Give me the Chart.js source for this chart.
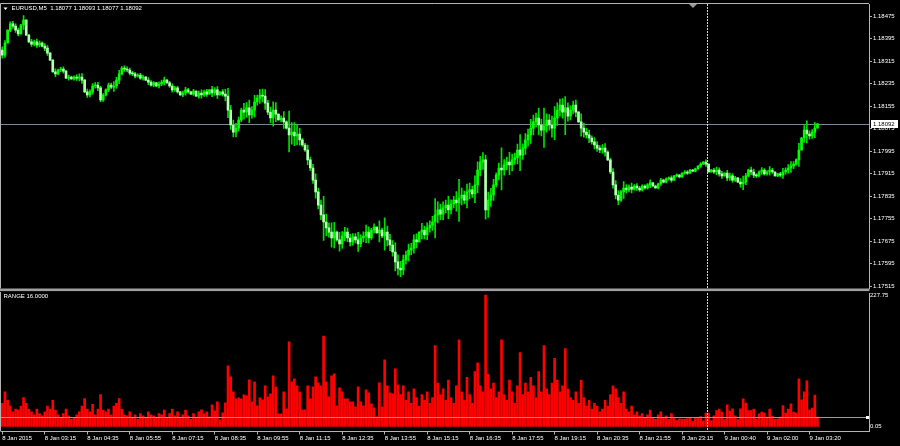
<!DOCTYPE html>
<html>
<head>
<meta charset="utf-8">
<title>EURUSD,M5</title>
<script src="https://cdn.jsdelivr.net/npm/chart.js@4.4.1/dist/chart.umd.min.js"></script>
<style>
    html, body { margin: 0; padding: 0; background: #000; }
    #wrap { position: relative; width: 900px; height: 446px; background: #000; overflow: hidden; }
    #priceChart { position: absolute; left: 0; top: 0; }
    #rangeChart { position: absolute; left: 0; top: 292px; }
</style>
</head>
<body>
<div id="wrap">
    <canvas id="priceChart" width="900" height="292"></canvas>
    <canvas id="rangeChart" width="900" height="154"></canvas>
</div>
<script>
// time axis labels, one every 16 bars
const tickLabels = ['8 Jan 2015', '8 Jan 03:15', '8 Jan 04:35', '8 Jan 05:55', '8 Jan 07:15', '8 Jan 08:35',
    '8 Jan 09:55', '8 Jan 11:15', '8 Jan 12:35', '8 Jan 13:55', '8 Jan 15:15', '8 Jan 16:35', '8 Jan 17:55',
    '8 Jan 19:15', '8 Jan 20:35', '8 Jan 21:55', '8 Jan 23:15', '9 Jan 00:40', '9 Jan 02:00', '9 Jan 03:20'];
const labelEvery = 16;

const priceTicks = [1.18475, 1.18395, 1.18315, 1.18235, 1.18155, 1.18075, 1.17995,
    1.17915, 1.17835, 1.17755, 1.17675, 1.17595, 1.17515];
const rangeTicks = [227.75, 0.05];

const symbolText = 'EURUSD,M5  1.18077 1.18093 1.18077 1.18092';
const rangeText = 'RANGE 16.0000';
const lastPrice = 1.18092;
const rangeLevel = 16;

// M5 candles
const opens = [
    1.18355,1.18337,1.18380,1.18426,1.18448,1.18440,1.18426,1.18412,1.18444,1.18462,1.18408,1.18384,1.18376,1.18384,1.18373,1.18380,
    1.18369,1.18362,1.18344,1.18319,1.18277,1.18270,1.18284,1.18287,1.18280,1.18255,1.18259,1.18252,1.18259,1.18255,1.18259,1.18248,
    1.18206,1.18195,1.18206,1.18227,1.18230,1.18220,1.18177,1.18195,1.18213,1.18230,1.18223,1.18227,1.18248,1.18270,1.18291,1.18287,
    1.18284,1.18273,1.18270,1.18262,1.18266,1.18255,1.18259,1.18248,1.18241,1.18230,1.18238,1.18227,1.18234,1.18241,1.18248,1.18238,
    1.18227,1.18213,1.18220,1.18206,1.18195,1.18202,1.18213,1.18206,1.18198,1.18209,1.18191,1.18202,1.18195,1.18206,1.18198,1.18213,
    1.18202,1.18213,1.18195,1.18206,1.18198,1.18191,1.18141,1.18088,1.18063,1.18077,1.18106,1.18141,1.18134,1.18149,1.18124,1.18141,
    1.18170,1.18184,1.18195,1.18191,1.18166,1.18134,1.18113,1.18141,1.18127,1.18106,1.18113,1.18099,1.18077,1.18053,1.18063,1.18049,
    1.18056,1.18035,1.18017,1.17999,1.17964,1.17935,1.17892,1.17850,1.17803,1.17768,1.17743,1.17722,1.17707,1.17686,1.17707,1.17679,
    1.17665,1.17693,1.17707,1.17686,1.17672,1.17690,1.17679,1.17665,1.17686,1.17693,1.17707,1.17686,1.17714,1.17725,1.17704,1.17714,
    1.17693,1.17707,1.17679,1.17661,1.17636,1.17601,1.17579,1.17572,1.17608,1.17625,1.17643,1.17650,1.17679,1.17672,1.17707,1.17714,
    1.17697,1.17722,1.17732,1.17743,1.17768,1.17786,1.17771,1.17793,1.17803,1.17786,1.17807,1.17821,1.17811,1.17828,1.17839,1.17821,
    1.17850,1.17857,1.17843,1.17875,1.17928,1.17956,1.17964,1.17786,1.17821,1.17839,1.17875,1.17910,1.17935,1.17928,1.17946,1.17956,
    1.17946,1.17964,1.17971,1.17999,1.17981,1.18006,1.18035,1.18053,1.18077,1.18099,1.18113,1.18088,1.18070,1.18085,1.18106,1.18088,
    1.18077,1.18113,1.18141,1.18159,1.18134,1.18149,1.18120,1.18141,1.18159,1.18134,1.18099,1.18077,1.18063,1.18053,1.18042,1.18028,
    1.18017,1.18006,1.17999,1.18006,1.17992,1.17964,1.17921,1.17875,1.17839,1.17821,1.17850,1.17864,1.17857,1.17867,1.17860,1.17871,
    1.17864,1.17857,1.17871,1.17864,1.17875,1.17882,1.17871,1.17864,1.17878,1.17892,1.17885,1.17896,1.17900,1.17892,1.17907,1.17910,
    1.17903,1.17917,1.17921,1.17917,1.17928,1.17924,1.17932,1.17942,1.17949,1.17956,1.17949,1.17921,1.17928,1.17921,1.17928,1.17914,
    1.17907,1.17917,1.17900,1.17907,1.17892,1.17900,1.17885,1.17878,1.17885,1.17907,1.17928,1.17921,1.17910,1.17907,1.17921,1.17928,
    1.17914,1.17921,1.17928,1.17921,1.17907,1.17914,1.17910,1.17921,1.17928,1.17935,1.17942,1.17949,1.17964,1.17999,1.18042,1.18070,
    1.18056,1.18049,1.18063,1.18077
];
const highs = [
    1.18366,1.18389,1.18427,1.18455,1.18457,1.18448,1.18433,1.18446,1.18478,1.18463,1.18411,1.18393,1.18390,1.18394,1.18388,1.18384,
    1.18378,1.18371,1.18347,1.18321,1.18288,1.18287,1.18293,1.18295,1.18283,1.18266,1.18262,1.18263,1.18267,1.18270,1.18271,1.18251,
    1.18216,1.18213,1.18236,1.18239,1.18240,1.18226,1.18200,1.18217,1.18237,1.18237,1.18243,1.18258,1.18283,1.18296,1.18299,1.18295,
    1.18291,1.18279,1.18276,1.18270,1.18272,1.18266,1.18261,1.18257,1.18246,1.18243,1.18240,1.18242,1.18248,1.18259,1.18251,1.18244,
    1.18235,1.18226,1.18226,1.18208,1.18209,1.18222,1.18219,1.18208,1.18215,1.18210,1.18209,1.18213,1.18212,1.18215,1.18214,1.18226,
    1.18221,1.18225,1.18207,1.18214,1.18215,1.18219,1.18158,1.18106,1.18094,1.18116,1.18148,1.18165,1.18168,1.18177,1.18154,1.18194,
    1.18195,1.18214,1.18216,1.18214,1.18176,1.18152,1.18171,1.18168,1.18128,1.18121,1.18136,1.18103,1.18138,1.18097,1.18097,1.18088,
    1.18076,1.18041,1.18023,1.18017,1.17974,1.17948,1.17914,1.17864,1.17821,1.17834,1.17771,1.17740,1.17740,1.17742,1.17711,1.17706,
    1.17709,1.17724,1.17721,1.17700,1.17702,1.17702,1.17706,1.17697,1.17708,1.17732,1.17726,1.17720,1.17736,1.17726,1.17747,1.17721,
    1.17758,1.17728,1.17699,1.17677,1.17669,1.17626,1.17603,1.17625,1.17639,1.17664,1.17667,1.17697,1.17701,1.17708,1.17738,1.17728,
    1.17740,1.17747,1.17763,1.17826,1.17815,1.17806,1.17815,1.17821,1.17835,1.17822,1.17834,1.17851,1.17895,1.17864,1.17853,1.17878,
    1.17881,1.17870,1.17907,1.17957,1.17977,1.17990,1.17981,1.17849,1.17863,1.17895,1.17918,1.17953,1.18007,1.17965,1.17974,1.17991,
    1.17985,1.17988,1.18020,1.18054,1.18021,1.18058,1.18074,1.18108,1.18123,1.18131,1.18148,1.18109,1.18148,1.18128,1.18125,1.18120,
    1.18154,1.18167,1.18180,1.18182,1.18189,1.18167,1.18156,1.18173,1.18177,1.18137,1.18128,1.18095,1.18076,1.18070,1.18050,1.18043,
    1.18029,1.18015,1.18018,1.18022,1.17996,1.17970,1.17933,1.17890,1.17855,1.17856,1.17887,1.17876,1.17875,1.17881,1.17876,1.17880,
    1.17870,1.17875,1.17875,1.17880,1.17893,1.17884,1.17874,1.17881,1.17898,1.17896,1.17900,1.17904,1.17907,1.17908,1.17914,1.17913,
    1.17918,1.17926,1.17926,1.17930,1.17930,1.17935,1.17944,1.17954,1.17958,1.17964,1.17950,1.17930,1.17934,1.17938,1.17936,1.17923,
    1.17918,1.17927,1.17917,1.17915,1.17905,1.17901,1.17897,1.17906,1.17916,1.17931,1.17938,1.17931,1.17915,1.17925,1.17937,1.17933,
    1.17926,1.17940,1.17934,1.17922,1.17917,1.17920,1.17934,1.17936,1.17947,1.17958,1.17958,1.17968,1.18023,1.18044,1.18086,1.18103,
    1.18067,1.18072,1.18097,1.18093
];
const lows = [
    1.18326,1.18329,1.18379,1.18420,1.18432,1.18418,1.18405,1.18411,1.18428,1.18407,1.18381,1.18368,1.18370,1.18364,1.18366,1.18366,
    1.18353,1.18336,1.18317,1.18276,1.18260,1.18267,1.18278,1.18273,1.18253,1.18248,1.18250,1.18248,1.18247,1.18245,1.18236,1.18203,
    1.18186,1.18188,1.18198,1.18219,1.18210,1.18171,1.18172,1.18192,1.18207,1.18217,1.18208,1.18218,1.18235,1.18266,1.18279,1.18277,
    1.18266,1.18264,1.18256,1.18258,1.18250,1.18248,1.18246,1.18232,1.18226,1.18225,1.18225,1.18220,1.18228,1.18231,1.18236,1.18222,
    1.18205,1.18208,1.18201,1.18193,1.18189,1.18194,1.18201,1.18196,1.18193,1.18190,1.18184,1.18184,1.18190,1.18190,1.18197,1.18189,
    1.18194,1.18183,1.18194,1.18191,1.18174,1.18114,1.18072,1.18046,1.18046,1.18067,1.18100,1.18110,1.18115,1.18096,1.18112,1.18117,
    1.18159,1.18165,1.18170,1.18144,1.18125,1.18096,1.18084,1.18100,1.18105,1.18099,1.18076,1.18073,1.17992,1.18020,1.18015,1.18018,
    1.18016,1.18012,1.17994,1.17947,1.17926,1.17880,1.17828,1.17789,1.17751,1.17677,1.17694,1.17689,1.17653,1.17651,1.17675,1.17639,
    1.17649,1.17676,1.17673,1.17658,1.17660,1.17668,1.17638,1.17655,1.17672,1.17669,1.17668,1.17681,1.17704,1.17703,1.17672,1.17687,
    1.17643,1.17658,1.17641,1.17621,1.17569,1.17554,1.17548,1.17555,1.17594,1.17604,1.17627,1.17632,1.17651,1.17671,1.17683,1.17683,
    1.17680,1.17707,1.17713,1.17686,1.17740,1.17751,1.17750,1.17776,1.17755,1.17772,1.17794,1.17781,1.17745,1.17804,1.17808,1.17793,
    1.17826,1.17830,1.17812,1.17847,1.17907,1.17930,1.17753,1.17759,1.17798,1.17820,1.17868,1.17893,1.17857,1.17910,1.17929,1.17911,
    1.17925,1.17948,1.17950,1.17926,1.17966,1.17983,1.18014,1.18023,1.18053,1.18081,1.18053,1.18049,1.18008,1.18063,1.18070,1.18045,
    1.18036,1.18087,1.18120,1.18112,1.18054,1.18102,1.18106,1.18128,1.18117,1.18097,1.18048,1.18045,1.18041,1.18025,1.18020,1.18003,
    1.17994,1.17990,1.17988,1.17977,1.17961,1.17915,1.17863,1.17825,1.17805,1.17816,1.17827,1.17846,1.17850,1.17846,1.17856,1.17855,
    1.17852,1.17853,1.17860,1.17860,1.17865,1.17869,1.17862,1.17861,1.17873,1.17882,1.17882,1.17892,1.17885,1.17891,1.17904,1.17900,
    1.17902,1.17913,1.17912,1.17916,1.17922,1.17921,1.17930,1.17937,1.17948,1.17941,1.17920,1.17920,1.17916,1.17911,1.17906,1.17898,
    1.17906,1.17890,1.17891,1.17885,1.17887,1.17884,1.17867,1.17858,1.17876,1.17904,1.17911,1.17901,1.17902,1.17903,1.17912,1.17910,
    1.17910,1.17910,1.17916,1.17906,1.17904,1.17904,1.17898,1.17913,1.17917,1.17919,1.17933,1.17945,1.17941,1.17998,1.18026,1.18024,
    1.18038,1.18040,1.18043,1.18077
];
const closes = [
    1.18337,1.18380,1.18426,1.18448,1.18440,1.18426,1.18412,1.18444,1.18462,1.18408,1.18384,1.18376,1.18384,1.18373,1.18380,1.18369,
    1.18362,1.18344,1.18319,1.18277,1.18270,1.18284,1.18287,1.18280,1.18255,1.18259,1.18252,1.18259,1.18255,1.18259,1.18248,1.18206,
    1.18195,1.18206,1.18227,1.18230,1.18220,1.18177,1.18195,1.18213,1.18230,1.18223,1.18227,1.18248,1.18270,1.18291,1.18287,1.18284,
    1.18273,1.18270,1.18262,1.18266,1.18255,1.18259,1.18248,1.18241,1.18230,1.18238,1.18227,1.18234,1.18241,1.18248,1.18238,1.18227,
    1.18213,1.18220,1.18206,1.18195,1.18202,1.18213,1.18206,1.18198,1.18209,1.18191,1.18202,1.18195,1.18206,1.18198,1.18213,1.18202,
    1.18213,1.18195,1.18206,1.18198,1.18191,1.18141,1.18088,1.18063,1.18077,1.18106,1.18141,1.18134,1.18149,1.18124,1.18141,1.18170,
    1.18184,1.18195,1.18191,1.18166,1.18134,1.18113,1.18141,1.18127,1.18106,1.18113,1.18099,1.18077,1.18053,1.18063,1.18049,1.18056,
    1.18035,1.18017,1.17999,1.17964,1.17935,1.17892,1.17850,1.17803,1.17768,1.17743,1.17722,1.17707,1.17686,1.17707,1.17679,1.17665,
    1.17693,1.17707,1.17686,1.17672,1.17690,1.17679,1.17665,1.17686,1.17693,1.17707,1.17686,1.17714,1.17725,1.17704,1.17714,1.17693,
    1.17707,1.17679,1.17661,1.17636,1.17601,1.17579,1.17572,1.17608,1.17625,1.17643,1.17650,1.17679,1.17672,1.17707,1.17714,1.17697,
    1.17722,1.17732,1.17743,1.17768,1.17786,1.17771,1.17793,1.17803,1.17786,1.17807,1.17821,1.17811,1.17828,1.17839,1.17821,1.17850,
    1.17857,1.17843,1.17875,1.17928,1.17956,1.17964,1.17786,1.17821,1.17839,1.17875,1.17910,1.17935,1.17928,1.17946,1.17956,1.17946,
    1.17964,1.17971,1.17999,1.17981,1.18006,1.18035,1.18053,1.18077,1.18099,1.18113,1.18088,1.18070,1.18085,1.18106,1.18088,1.18077,
    1.18113,1.18141,1.18159,1.18134,1.18149,1.18120,1.18141,1.18159,1.18134,1.18099,1.18077,1.18063,1.18053,1.18042,1.18028,1.18017,
    1.18006,1.17999,1.18006,1.17992,1.17964,1.17921,1.17875,1.17839,1.17821,1.17850,1.17864,1.17857,1.17867,1.17860,1.17871,1.17864,
    1.17857,1.17871,1.17864,1.17875,1.17882,1.17871,1.17864,1.17878,1.17892,1.17885,1.17896,1.17900,1.17892,1.17907,1.17910,1.17903,
    1.17917,1.17921,1.17917,1.17928,1.17924,1.17932,1.17942,1.17949,1.17956,1.17949,1.17921,1.17928,1.17921,1.17928,1.17914,1.17907,
    1.17917,1.17900,1.17907,1.17892,1.17900,1.17885,1.17878,1.17885,1.17907,1.17928,1.17921,1.17910,1.17907,1.17921,1.17928,1.17914,
    1.17921,1.17928,1.17921,1.17907,1.17914,1.17910,1.17921,1.17928,1.17935,1.17942,1.17949,1.17964,1.17999,1.18042,1.18070,1.18056,
    1.18049,1.18063,1.18077,1.18092
];

// RANGE indicator (points)
const ranges = [
    40,60,45,35,25,30,28,35,50,40,30,25,20,30,22,18,
    25,35,30,45,28,20,15,22,30,18,12,15,20,25,35,48,
    30,25,38,20,30,55,28,25,30,20,35,40,48,30,20,18,
    25,15,20,12,22,18,15,25,20,18,15,22,20,28,15,22,
    30,18,25,15,20,28,18,12,22,15,25,28.6,21.6,25.1,16.5,37.2,
    26.8,42.4,11.3,23.4,40.7,104.8,85.7,59.7,47.6,49.4,47.6,54.5,52.8,80.5,42.4,77.1,
    35.5,49.4,45.9,70.1,51.1,56.3,87.4,68.4,21.6,21.6,59.7,30.3,146.3,77.1,82.3,70.1,
    59.7,28.6,28.6,70.1,47.6,68.4,85.7,75.3,70.1,156.7,77.1,51.1,87.4,90.9,35.5,66.7,
    59.7,47.6,47.6,42.4,42.4,33.8,68.4,42.4,35.5,63.2,58.0,39.0,32.0,16.5,75.3,33.8,
    115.2,70.1,58.0,56.3,99.6,71.9,55,70,45,60,40,65,50,35,55,45,
    60,40,50,140,75,55,65,45,80,50,40,70,150,60,45,85,
    55,40,95,110,70,60,227.75,90,65,75,50,60,150,55,45,80,
    60,40,70,128,55,75,60,85,70,50,95,60,140,65,55,75,
    118,80,60,70,135,65,50,45,60,40,80,50,35,45,30,40,
    35,25,30,45,35,55,70,65,50,40,60,30,25,35,20,25,
    18,22,15,20,28,15,12,20,25,14,18,12,22,15,10,13,
    12.5,12.5,13.5,14.2,8.3,14.2,14.2,17,9.5,23,22.9,10,18.2,27.4,29.8,24.6,
    11.8,37.2,26.3,30.3,18.2,11.8,30.3,47.6,40.2,27.4,27.4,29.8,12.5,21.6,24.6,22.9,
    15.9,29.8,17.7,12.5,13,15.9,36,22.9,29.8,39,24.6,22.9,82.3,45.9,59.7,78.8,
    28.6,31.5,54,16
];

// look
const FONT = '"Liberation Sans", Arial, sans-serif';
const TEXT = '#ffffff';
const FRAME = '#b4b4b4';
const BULL = '#00ff00';
const BEAR = '#b4ffb4';
const WICK = '#00e000';
const X_MIN = -0.5;
const X_MAX = 326.4;   // empty space right of the last bar
const crossBar = 265.5;

function textAt(ctx, str, x, y, color) {
    ctx.save();
    ctx.font = '6px ' + FONT;
    ctx.fillStyle = color;
    ctx.textBaseline = 'middle';
    ctx.textAlign = 'left';
    ctx.fillText(str, x, y);
    ctx.restore();
}

function drawCross(chart) {
    const { ctx, chartArea: a, scales } = chart;
    const x = Math.round(scales.x.getPixelForValue(crossBar)) + 0.5;
    ctx.save();
    ctx.strokeStyle = '#d8d8d8';
    ctx.setLineDash([2, 1]);
    ctx.beginPath();
    ctx.moveTo(x, a.top);
    ctx.lineTo(x, a.bottom);
    ctx.stroke();
    ctx.restore();
}

const pricePlugin = {
    id: 'pricePanel',
    beforeDatasetsDraw(chart) {
        const { ctx, chartArea: a, scales } = chart;
        const y = Math.round(scales.y.getPixelForValue(lastPrice)) + 0.5;
        ctx.save();
        ctx.strokeStyle = '#778899';
        ctx.beginPath();
        ctx.moveTo(a.left, y);
        ctx.lineTo(a.right, y);
        ctx.stroke();
        ctx.restore();
    },
    afterDatasetsDraw(chart) {
        drawCross(chart);
    },
    afterDraw(chart) {
        const { ctx, chartArea: a, scales } = chart;
        ctx.save();
        // frame
        ctx.strokeStyle = FRAME;
        ctx.beginPath();
        ctx.moveTo(a.left - 0.5, a.bottom);
        ctx.lineTo(a.left - 0.5, a.top - 0.5);
        ctx.lineTo(a.right, a.top - 0.5);
        ctx.stroke();
        // splitter between the two windows
        ctx.fillStyle = '#a0a0a0';
        ctx.fillRect(0, a.bottom, a.right + 0.5, 2.6);
        // chart shift marker
        ctx.fillStyle = '#9a9a9a';
        ctx.beginPath();
        ctx.moveTo(689, a.top);
        ctx.lineTo(697, a.top);
        ctx.lineTo(693, a.top + 4);
        ctx.closePath();
        ctx.fill();
        // header
        ctx.fillStyle = TEXT;
        ctx.beginPath();
        ctx.moveTo(3.5, 7.5);
        ctx.lineTo(7.5, 7.5);
        ctx.lineTo(5.5, 10);
        ctx.closePath();
        ctx.fill();
        textAt(ctx, symbolText, 11.5, 8.5, TEXT);
        // last price label
        const y = Math.round(scales.y.getPixelForValue(lastPrice));
        ctx.fillStyle = '#ffffff';
        ctx.fillRect(871, y - 4, 27, 8);
        textAt(ctx, lastPrice.toFixed(5), 873, y + 0.5, '#000000');
        ctx.restore();
    }
};

const rangePlugin = {
    id: 'rangePanel',
    afterDatasetsDraw(chart) {
        const { ctx, chartArea: a, scales } = chart;
        const y = Math.round(scales.y.getPixelForValue(rangeLevel)) + 0.5;
        ctx.save();
        ctx.strokeStyle = '#9a9a9a';
        ctx.beginPath();
        ctx.moveTo(a.left, y);
        ctx.lineTo(a.right, y);
        ctx.stroke();
        ctx.fillStyle = '#ffffff';
        ctx.fillRect(a.right - 3, y - 1.5, 3, 3);
        ctx.restore();
        drawCross(chart);
    },
    afterDraw(chart) {
        const { ctx, chartArea: a } = chart;
        ctx.save();
        ctx.strokeStyle = FRAME;
        ctx.beginPath();
        ctx.moveTo(a.left - 0.5, a.bottom);
        ctx.lineTo(a.left - 0.5, 0);
        ctx.stroke();
        ctx.restore();
        textAt(chart.ctx, rangeText, 3.5, 4, TEXT);
    }
};

const axisFont = { family: FONT, size: 6 };

// candles: wicks as thin floating bars, bodies as wider floating bars
new Chart(document.getElementById('priceChart'), {
    type: 'bar',
    data: {
        datasets: [{
            data: highs.map((h, i) => ({ x: i, y: [lows[i], h] })),
            backgroundColor: WICK,
            barThickness: 1,
            grouped: false,
            order: 2
        }, {
            data: opens.map((o, i) => ({ x: i, y: [o, closes[i]] })),
            backgroundColor: opens.map((o, i) => closes[i] >= o ? BULL : BEAR),
            barThickness: 2,
            minBarLength: 1,
            grouped: false,
            order: 1
        }]
    },
    options: {
        responsive: false,
        animation: false,
        layout: { padding: { left: 1, top: 4, right: 0, bottom: 3.5 } },
        plugins: { legend: { display: false }, tooltip: { enabled: false } },
        scales: {
            x: { type: 'linear', min: X_MIN, max: X_MAX, offset: false, display: false },
            y: {
                position: 'right',
                min: 1.175062,
                max: 1.185188,
                afterBuildTicks: scale => { scale.ticks = priceTicks.map(v => ({ value: v })); },
                afterFit: scale => { scale.width = 31; scale.paddingTop = 0; scale.paddingBottom = 0; },
                ticks: { color: TEXT, font: axisFont, padding: 1, autoSkip: false, callback: v => v.toFixed(5) },
                grid: { drawOnChartArea: false, tickLength: 3, color: FRAME },
                border: { color: FRAME }
            }
        }
    },
    plugins: [pricePlugin]
});

new Chart(document.getElementById('rangeChart'), {
    type: 'bar',
    data: {
        datasets: [{
            data: ranges.map((v, i) => ({ x: i, y: v })),
            backgroundColor: '#ff0000',
            barThickness: 2
        }]
    },
    options: {
        responsive: false,
        animation: false,
        layout: { padding: { left: 1, top: 1, right: 0, bottom: 0 } },
        plugins: { legend: { display: false }, tooltip: { enabled: false } },
        scales: {
            x: {
                type: 'linear', min: X_MIN, max: X_MAX, offset: false,
                afterBuildTicks: scale => { scale.ticks = tickLabels.map((t, k) => ({ value: k * labelEvery })); },
                afterFit: scale => { scale.height = 14.5; scale.paddingLeft = 0; scale.paddingRight = 0; },
                ticks: {
                    color: TEXT, font: axisFont, padding: 0, align: 'start',
                    maxRotation: 0, autoSkip: false,
                    callback: v => tickLabels[v / labelEvery]
                },
                grid: { drawOnChartArea: false, tickLength: 3, color: FRAME, offset: false },
                border: { color: FRAME }
            },
            y: {
                position: 'right',
                min: -9,
                max: 231.2,
                afterBuildTicks: scale => { scale.ticks = rangeTicks.map(v => ({ value: v })); },
                afterFit: scale => { scale.width = 31; scale.paddingTop = 0; scale.paddingBottom = 0; },
                ticks: { color: TEXT, font: axisFont, padding: 1, autoSkip: false, callback: v => v.toFixed(2) },
                grid: { drawOnChartArea: false, drawTicks: false, tickLength: 0, color: FRAME },
                border: { color: FRAME }
            }
        }
    },
    plugins: [rangePlugin]
});
</script>
</body>
</html>
